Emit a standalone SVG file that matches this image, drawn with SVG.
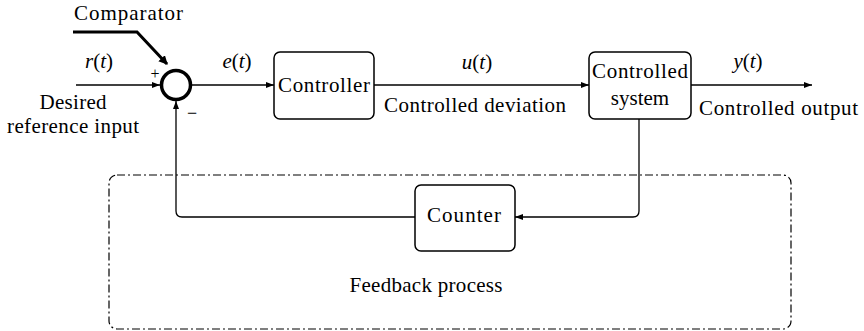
<svg xmlns="http://www.w3.org/2000/svg" width="864" height="331" viewBox="0 0 864 331">
<style>
text{font-family:'Liberation Serif','Times New Roman',serif;font-size:21px;fill:#000}
.i{font-style:italic}
.box{fill:#fff;stroke:#000;stroke-width:1.5}
.ln{fill:none;stroke:#000;stroke-width:1.3}
.dash{fill:none;stroke:#000;stroke-width:1.2;stroke-dasharray:8 3 2 3}
</style>
<defs>
<marker id="ah" viewBox="0 0 8 6" refX="8" refY="3" markerWidth="8" markerHeight="6" markerUnits="userSpaceOnUse" orient="auto">
<path d="M0,0 L8,3 L0,6 z" fill="#000"/>
</marker>
<marker id="ahb" viewBox="0 0 8 8" refX="7" refY="4" markerWidth="9" markerHeight="9" markerUnits="userSpaceOnUse" orient="auto">
<path d="M0,0 L8,4 L0,8 z" fill="#000"/>
</marker>
</defs>

<g id="feedback-region">
<rect class="dash" x="109" y="175" width="682" height="154" rx="8"/>
<text x="426" y="292" text-anchor="middle" textLength="153">Feedback process</text>
</g>

<g id="connectors">
<polyline class="ln" points="76,85 160,85" marker-end="url(#ah)"/>
<polyline class="ln" points="192,85 274,85" marker-end="url(#ah)"/>
<polyline class="ln" points="374,85 589,85" marker-end="url(#ah)"/>
<polyline class="ln" points="691,85 812,85" marker-end="url(#ah)"/>
<path class="ln" d="M639,119 V211 Q639,217 633,217 H515" marker-end="url(#ah)"/>
<path class="ln" d="M415,217 H182 Q176,217 176,211 V101" marker-end="url(#ah)"/>
<polyline fill="none" stroke="#000" stroke-width="3" points="73,32 137,32 167,64" marker-end="url(#ahb)"/>
</g>

<g id="comparator">
<circle cx="176" cy="85" r="14.5" fill="#fff" stroke="#000" stroke-width="3.5"/>
<text x="74" y="20" textLength="109">Comparator</text>
<text x="155" y="79" text-anchor="middle" style="font-size:16px">+</text>
<text x="192" y="119" text-anchor="middle" style="font-size:18px">−</text>
</g>

<g id="controller">
<rect class="box" x="274" y="52" width="100" height="67" rx="6"/>
<text x="324" y="92" text-anchor="middle" textLength="92">Controller</text>
</g>

<g id="controlled-system">
<rect class="box" x="589" y="52" width="102" height="67" rx="6"/>
<text x="640" y="78" text-anchor="middle" textLength="96">Controlled</text>
<text x="640" y="105" text-anchor="middle">system</text>
</g>

<g id="counter">
<rect class="box" x="415" y="185" width="100" height="66" rx="6"/>
<text x="464" y="222" text-anchor="middle" textLength="74">Counter</text>
</g>

<g id="labels">
<text x="99" y="68" text-anchor="middle"><tspan class="i">r</tspan>(<tspan class="i">t</tspan>)</text>
<text x="237" y="68" text-anchor="middle"><tspan class="i">e</tspan>(<tspan class="i">t</tspan>)</text>
<text x="477" y="69" text-anchor="middle"><tspan class="i">u</tspan>(<tspan class="i">t</tspan>)</text>
<text x="748" y="68" text-anchor="middle"><tspan class="i">y</tspan>(<tspan class="i">t</tspan>)</text>
<text x="73" y="109" text-anchor="middle" textLength="67">Desired</text>
<text x="73" y="133" text-anchor="middle" textLength="132">reference input</text>
<text x="384" y="112" textLength="182">Controlled deviation</text>
<text x="699" y="115" textLength="159">Controlled output</text>
</g>
</svg>
